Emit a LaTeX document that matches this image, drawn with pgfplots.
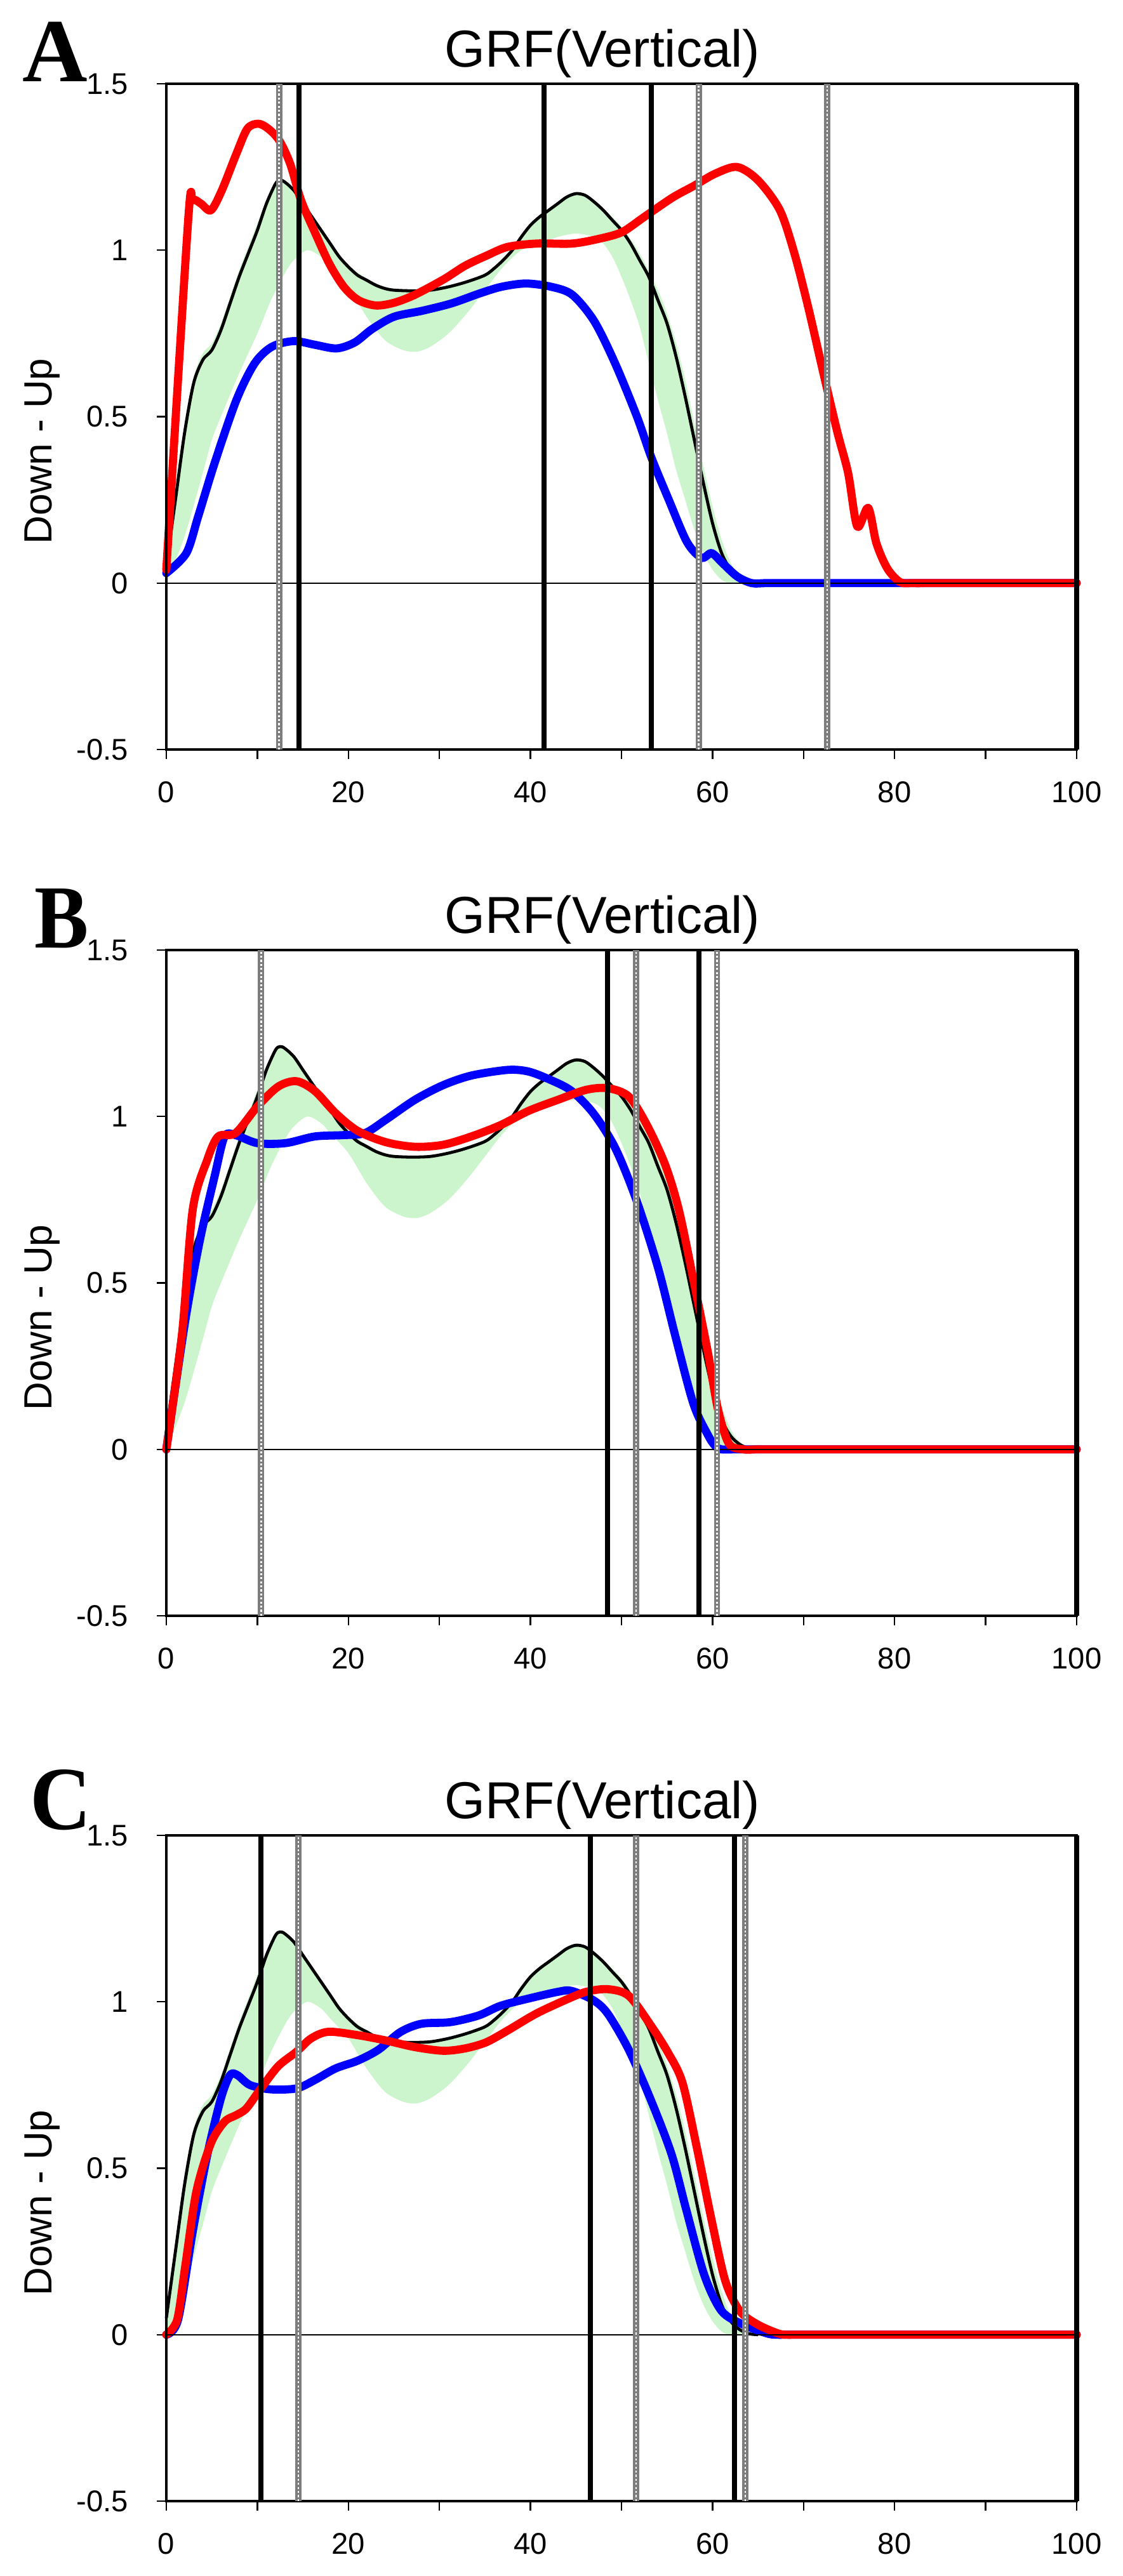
\documentclass[border=0pt]{standalone}
\usepackage{fontspec}
\setmainfont{Liberation Sans}
\newfontfamily\letterfont{Liberation Serif}
\usepackage{pgfplots}
\usepackage{pgfplotstable}
\pgfplotsset{compat=1.18}

\definecolor{bandgreen}{RGB}{205,245,205}
\definecolor{evgray}{RGB}{125,125,125}

% normal reference mean (black)
\pgfplotstableread{
x y
0 0.05
1 0.25
2 0.45
3 0.6
4 0.67
5 0.7
6 0.76
7 0.84
8 0.92
9 0.99
10 1.06
11 1.14
12 1.2
12.5 1.21
13 1.205
14 1.18
15 1.14
16 1.1
17 1.06
18 1.02
19 0.98
20 0.95
21 0.925
22 0.91
23 0.895
24 0.885
25 0.88
27 0.878
29 0.88
31 0.89
33 0.905
35 0.925
36 0.945
37 0.97
38 1.0
39 1.04
40 1.075
41 1.1
42 1.12
43 1.14
44 1.16
45 1.17
46 1.165
47 1.145
48 1.12
49 1.09
50 1.06
51 1.02
52 0.97
53 0.92
54 0.85
55 0.78
56 0.68
57 0.56
58 0.43
59 0.3
60 0.18
61 0.09
62 0.04
63 0.015
64 0.003
65 0
}\blackmean

% normal band: upper edge left to right, then lower edge right to left
\pgfplotstableread{
x y
0 0.05
1 0.27
2 0.48
3 0.62
4 0.69
5 0.72
6 0.78
7 0.86
8 0.94
9 1.01
10 1.08
11 1.15
12 1.2
12.5 1.21
13 1.205
14 1.18
15 1.14
16 1.1
17 1.06
18 1.02
19 0.985
20 0.955
22 0.915
24 0.89
26 0.882
28 0.882
30 0.887
32 0.9
34 0.915
36 0.945
38 1.0
40 1.075
42 1.12
44 1.16
45 1.17
46 1.165
48 1.125
50 1.07
52 0.99
54 0.88
55 0.81
56 0.72
57 0.61
58 0.48
59 0.35
60 0.23
61 0.13
62 0.06
63 0.02
64 0.005
65 0
62 0
61 0.01
60 0.04
59 0.09
58 0.16
57 0.25
56 0.34
55 0.45
54 0.55
53 0.66
52 0.77
51 0.85
50 0.92
49 0.98
48 1.02
47 1.04
45 1.05
43 1.04
41 1.02
39 1.0
37 0.95
35 0.88
33 0.81
31 0.75
29 0.71
27.5 0.695
26 0.7
24 0.73
22 0.8
20 0.89
18 0.95
17 0.98
15.5 1.0
14 0.97
13 0.93
11.5 0.85
10 0.75
8 0.63
6 0.5
5 0.43
4 0.33
2 0.14
0 0
}\band

% Panel A
\pgfplotstableread{
x y
0 0.04
2.4 1.09
2.9 1.15
3.8 1.14
4.9 1.12
6.1 1.18
7.7 1.29
8.9 1.365
10.1 1.38
11.2 1.365
12.4 1.33
13.6 1.26
14.8 1.15
16.3 1.055
17.9 0.96
19.5 0.89
21.1 0.85
23 0.834
25 0.842
27.3 0.866
30.5 0.913
32.8 0.953
35.2 0.984
37.5 1.01
40.7 1.02
44.6 1.02
47.8 1.036
50.1 1.055
52.5 1.1
55.6 1.158
58 1.194
60.3 1.23
62.7 1.25
65 1.21
67.4 1.12
69 0.99
70.5 0.83
72.1 0.64
73.7 0.455
74.9 0.33
75.9 0.17
77.1 0.226
78 0.12
79.2 0.044
80.6 0.003
82 0
85 0
100 0
}\redA

\pgfplotstableread{
x y
0 0.03
2.2 0.09
3.5 0.2
5.3 0.36
7.7 0.55
9.7 0.66
11.6 0.71
14 0.727
16.3 0.716
18.7 0.705
20.7 0.723
22.6 0.763
25 0.80
28.1 0.818
31.3 0.84
34.4 0.87
36.8 0.89
39.5 0.90
42.3 0.89
44.6 0.866
47 0.787
49.3 0.66
51.7 0.50
53.3 0.376
55.2 0.25
57.2 0.123
58.8 0.076
59.9 0.09
61.1 0.06
62.7 0.02
64.3 0
66 0
70 0
100 0
}\blueA

% Panel B
\pgfplotstableread{
x y
0 0
1.7 0.34
2.9 0.72
4.5 0.87
5.7 0.94
7.6 0.95
10 1.03
12.3 1.09
14.3 1.106
16.3 1.077
18.6 1.01
21 0.957
24.1 0.923
27.3 0.909
30.4 0.915
33.5 0.94
36.7 0.974
39.8 1.017
43 1.05
46.1 1.08
48.5 1.085
50.8 1.06
52.8 0.974
54.8 0.855
56.3 0.72
57.9 0.51
59.5 0.29
60.6 0.12
61.8 0.017
63.4 0
65 0
70 0
100 0
}\redB

\pgfplotstableread{
x y
0 0
2.1 0.39
3.7 0.63
5.3 0.82
6.4 0.94
7.6 0.944
10 0.92
13.1 0.92
16.3 0.94
19.4 0.944
21.8 0.95
24.1 0.99
27.3 1.05
30.4 1.094
33.5 1.123
37.5 1.14
39.8 1.135
42.2 1.11
44.5 1.077
46.9 1.01
49.3 0.906
51.6 0.752
54 0.547
55.9 0.342
57.9 0.137
59.5 0.043
60.3 0.01
61 0
62.5 0
66 0
100 0
}\blueB

% Panel C
\pgfplotstableread{
x y
0 0
1.2 0.046
2.1 0.21
3.3 0.43
4.9 0.575
6.4 0.64
7.7 0.66
8.8 0.68
10.4 0.74
12.3 0.807
14.3 0.85
15.9 0.89
17.8 0.91
21 0.90
24.1 0.884
27.3 0.864
30.4 0.853
32.8 0.86
35.1 0.878
37.5 0.914
40.6 0.964
43.8 1.005
46.1 1.03
48.5 1.038
50.8 1.018
53.2 0.93
55.1 0.848
56.7 0.757
58.3 0.559
59.9 0.344
61.4 0.162
63 0.071
65 0.03
67.3 0.003
68.5 0
71 0
100 0
}\redC

\pgfplotstableread{
x y
0 0
1.3 0.046
2.9 0.31
4.5 0.54
6 0.71
7 0.78
7.8 0.78
9.2 0.75
11.5 0.737
14.3 0.74
16.3 0.765
18.6 0.80
21 0.823
23.3 0.856
25.7 0.909
28 0.934
31.2 0.939
34.3 0.959
36.7 0.988
39.8 1.01
43 1.03
44.5 1.033
46.9 1.005
48.5 0.964
50.8 0.856
53.2 0.707
55.5 0.542
57.1 0.377
59.1 0.179
61 0.071
63.4 0.03
66.1 0.003
67.5 0
70 0
100 0
}\blueC

\pgfplotsset{
  grfaxis/.style={
    scale only axis, width=358.5pt, height=262.25pt,
    anchor=north west, clip=false,
    xmin=0, xmax=100, ymin=-0.5, ymax=1.5,
    xtick={0,20,40,60,80,100},
    minor xtick={10,30,50,70,90},
    ytick={-0.5,0,0.5,1,1.5},
    yticklabels={-0.5,0,0.5,1,1.5},
    xticklabels={0,20,40,60,80,100},
    tick align=outside, tick pos=left,
    major tick length=3.8pt, minor tick length=3.8pt,
    every tick/.style={black, line width=0.6pt},
    every minor tick/.style={black, line width=0.6pt},
    axis line style={black, line width=0.8pt},
    tick label style={font=\fontsize{11.8}{13}\selectfont, inner sep=0pt},
    xticklabel style={anchor=north, yshift=-8.6pt},
    yticklabel style={anchor=east, xshift=-11pt},
  },
  meanline/.style={black, line width=1.2pt, smooth},
  subjline/.style={line width=3.2pt, smooth, line join=round, line cap=round},
  evblack/.style={black, line width=2pt},
}
\newcommand{\evg}[1]{%
  \addplot[evgray, line width=2.4pt] coordinates {(#1,-0.5) (#1,1.5)};
  \addplot[white, line width=0.7pt, dash pattern=on 0.8pt off 0.8pt] coordinates {(#1,-0.5) (#1,1.5)};
}
\newcommand{\evb}[1]{%
  \addplot[evblack] coordinates {(#1,-0.5) (#1,1.5)};
}

\begin{document}
\begin{tikzpicture}
\useasboundingbox (0,0) rectangle (442pt,-1014.75pt);

% ---------------- Panel A
\begin{axis}[grfaxis, at={(65.5pt,-33pt)}]
  \addplot[fill=bandgreen, draw=none, smooth] table {\band};
  \addplot[meanline] table {\blackmean};
  \addplot[subjline, blue] table {\blueA};
  \addplot[subjline, red] table {\redA};
  \addplot[black, line width=0.5pt] coordinates {(0,0) (100,0)};
  \addplot[black, line width=1.1pt] coordinates {(0,-0.5) (0,1.5)};
  \evg{12.4}
  \evb{14.6}
  \evb{41.5}
  \evb{53.3}
  \evg{58.5}
  \evg{72.6}
  \evb{100}
\end{axis}
\node[anchor=base, inner sep=0pt, font=\fontsize{20.5}{22}\selectfont] at (237.25pt,-26.25pt) {GRF(Vertical)};
\node[anchor=base west, inner sep=0pt, font=\letterfont\bfseries\fontsize{35.5}{36}\selectfont] at (8.75pt,-32pt) {A};
\node[rotate=90, inner sep=0pt, font=\fontsize{15.5}{17}\selectfont] at (16.75pt,-177.75pt) {Down - Up};

% ---------------- Panel B
\begin{axis}[grfaxis, at={(65.5pt,-374.25pt)}]
  \addplot[fill=bandgreen, draw=none, smooth] table {\band};
  \addplot[meanline] table {\blackmean};
  \addplot[subjline, blue] table {\blueB};
  \addplot[subjline, red] table {\redB};
  \addplot[black, line width=0.5pt] coordinates {(0,0) (100,0)};
  \addplot[black, line width=1.1pt] coordinates {(0,-0.5) (0,1.5)};
  \evg{10.4}
  \evb{48.5}
  \evg{51.6}
  \evb{58.5}
  \evg{60.5}
  \evb{100}
\end{axis}
\node[anchor=base, inner sep=0pt, font=\fontsize{20.5}{22}\selectfont] at (237.25pt,-367.5pt) {GRF(Vertical)};
\node[anchor=base west, inner sep=0pt, font=\letterfont\bfseries\fontsize{35.5}{36}\selectfont, xscale=0.9] at (13.5pt,-373.25pt) {B};
\node[rotate=90, inner sep=0pt, font=\fontsize{15.5}{17}\selectfont] at (16.75pt,-519pt) {Down - Up};

% ---------------- Panel C
\begin{axis}[grfaxis, at={(65.5pt,-723pt)}]
  \addplot[fill=bandgreen, draw=none, smooth] table {\band};
  \addplot[meanline] table {\blackmean};
  \addplot[subjline, blue] table {\blueC};
  \addplot[subjline, red] table {\redC};
  \addplot[black, line width=0.5pt] coordinates {(0,0) (100,0)};
  \addplot[black, line width=1.1pt] coordinates {(0,-0.5) (0,1.5)};
  \evb{10.4}
  \evg{14.5}
  \evb{46.6}
  \evg{51.6}
  \evb{62.4}
  \evg{63.6}
  \evb{100}
\end{axis}
\node[anchor=base, inner sep=0pt, font=\fontsize{20.5}{22}\selectfont] at (237.25pt,-716.25pt) {GRF(Vertical)};
\node[anchor=base west, inner sep=0pt, font=\letterfont\bfseries\fontsize{35.5}{36}\selectfont, xscale=0.94] at (11.75pt,-720.5pt) {C};
\node[rotate=90, inner sep=0pt, font=\fontsize{15.5}{17}\selectfont] at (16.75pt,-867.75pt) {Down - Up};
\end{tikzpicture}
\end{document}
